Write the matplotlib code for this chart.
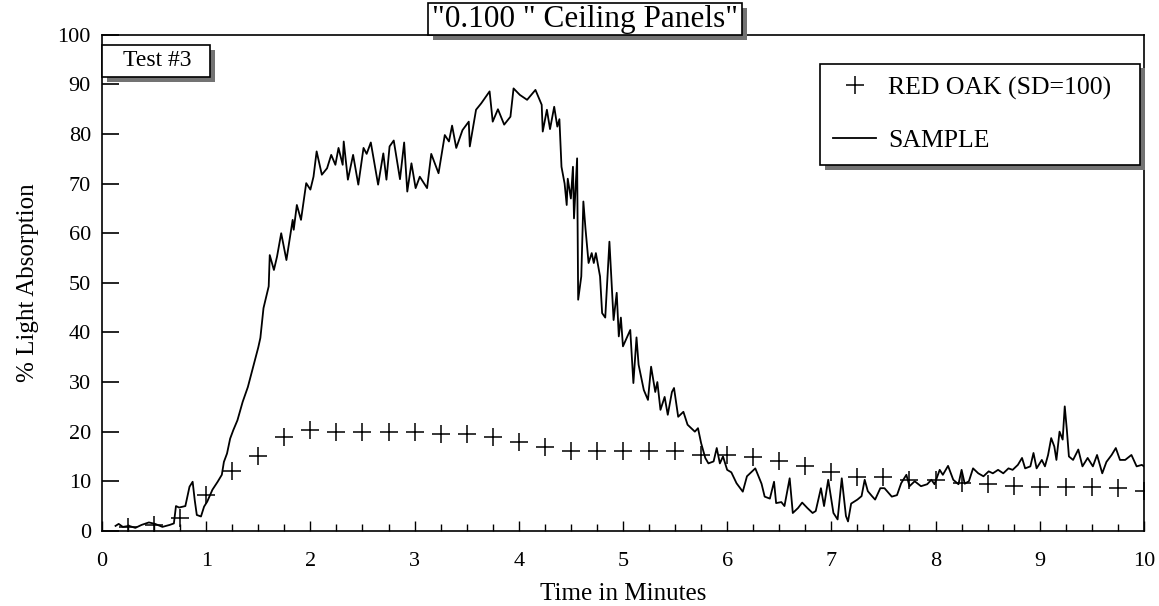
import matplotlib
matplotlib.use("Agg")
import matplotlib.pyplot as plt
import matplotlib.patheffects as pe
from matplotlib.patches import Rectangle
from matplotlib.ticker import MultipleLocator

plt.rcParams['font.family'] = ['Liberation Serif', 'DejaVu Serif']

# red oak reference (SD=100), one reading every quarter minute
oak_t = [0.25, 0.5, 0.75, 1.0, 1.25, 1.5, 1.75, 2.0, 2.25, 2.5, 2.75, 3.0, 3.25, 3.5,
         3.75, 4.0, 4.25, 4.5, 4.75, 5.0, 5.25, 5.5, 5.75, 6.0, 6.25, 6.5, 6.75, 7.0,
         7.25, 7.5, 7.75, 8.0, 8.25, 8.5, 8.75, 9.0, 9.25, 9.5, 9.75, 10.0]
oak_v = [0.8, 1.2, 2.6, 7.3, 12.1, 15.1, 18.9, 20.4, 20.0, 20.0, 20.0, 20.0, 19.6, 19.6,
         19.0, 18.0, 17.0, 16.0, 16.0, 16.0, 16.0, 16.0, 15.3, 15.3, 14.9, 14.0, 13.0, 11.8,
         10.9, 10.9, 10.3, 10.3, 9.7, 9.5, 9.1, 8.9, 8.8, 8.8, 8.6, 8.1]

# sample trace
smp_t = [0.13, 0.16, 0.20, 0.26, 0.32, 0.38, 0.45, 0.51, 0.58, 0.65, 0.69, 0.71, 0.74, 0.80,
         0.84, 0.87, 0.89, 0.91, 0.95, 0.98, 1.01, 1.06, 1.11, 1.15, 1.17, 1.20, 1.23, 1.26,
         1.30, 1.35, 1.40, 1.45, 1.50, 1.52, 1.55, 1.60, 1.61, 1.65, 1.68, 1.72, 1.77, 1.83,
         1.84, 1.87, 1.91, 1.96, 2.00, 2.03, 2.06, 2.11, 2.16, 2.20, 2.24, 2.27, 2.31, 2.32,
         2.36, 2.41, 2.46, 2.51, 2.54, 2.58, 2.65, 2.70, 2.73, 2.76, 2.80, 2.86, 2.90, 2.93,
         2.97, 3.01, 3.05, 3.12, 3.16, 3.23, 3.29, 3.33, 3.36, 3.40, 3.46, 3.52, 3.53, 3.59,
         3.64, 3.72, 3.75, 3.80, 3.86, 3.92, 3.95, 4.01, 4.08, 4.16, 4.22, 4.23, 4.27, 4.30,
         4.34, 4.37, 4.39, 4.41, 4.44, 4.46, 4.47, 4.50, 4.52, 4.53, 4.56, 4.57, 4.60, 4.62,
         4.64, 4.67, 4.70, 4.72, 4.74, 4.78, 4.80, 4.83, 4.87, 4.91, 4.94, 4.96, 4.98, 5.00,
         5.07, 5.10, 5.13, 5.15, 5.20, 5.24, 5.27, 5.31, 5.33, 5.36, 5.40, 5.43, 5.47, 5.49,
         5.53, 5.58, 5.62, 5.69, 5.72, 5.75, 5.79, 5.82, 5.87, 5.90, 5.93, 5.96, 6.00, 6.04,
         6.09, 6.15, 6.19, 6.22, 6.27, 6.33, 6.36, 6.41, 6.45, 6.47, 6.52, 6.55, 6.60, 6.63,
         6.68, 6.72, 6.77, 6.82, 6.85, 6.90, 6.93, 6.97, 7.02, 7.06, 7.10, 7.14, 7.16, 7.19,
         7.25, 7.29, 7.32, 7.35, 7.39, 7.42, 7.47, 7.51, 7.58, 7.63, 7.67, 7.72, 7.75, 7.80,
         7.86, 7.92, 7.96, 7.99, 8.04, 8.07, 8.12, 8.17, 8.22, 8.25, 8.28, 8.32, 8.36, 8.41,
         8.46, 8.51, 8.55, 8.60, 8.65, 8.70, 8.74, 8.79, 8.83, 8.86, 8.91, 8.94, 8.97, 9.02,
         9.05, 9.08, 9.11, 9.14, 9.16, 9.19, 9.22, 9.24, 9.26, 9.28, 9.32, 9.37, 9.41, 9.46,
         9.51, 9.55, 9.60, 9.64, 9.69, 9.73, 9.77, 9.82, 9.88, 9.93, 9.98, 10.00]
smp_v = [1.0, 1.4, 0.8, 1.0, 0.6, 1.2, 1.7, 1.4, 0.8, 1.2, 1.5, 5.0, 4.7, 5.0,
         8.9, 9.9, 6.2, 3.2, 2.9, 4.9, 5.9, 8.3, 9.9, 11.3, 13.9, 15.6, 18.6, 20.3,
         22.3, 26.0, 29.0, 33.0, 37.0, 38.9, 44.9, 49.3, 55.6, 52.6, 55.3, 60.0, 54.6, 62.7,
         60.7, 65.7, 62.7, 70.1, 68.8, 71.4, 76.5, 71.8, 73.1, 75.8, 73.8, 77.2, 73.8, 78.5,
         70.8, 75.8, 69.8, 77.2, 76.0, 78.3, 69.8, 76.1, 70.8, 77.5, 78.7, 70.9, 78.3, 68.4,
         74.1, 69.1, 71.4, 69.1, 76.0, 72.1, 79.8, 78.5, 81.7, 77.2, 80.8, 82.5, 77.5, 84.9,
         86.2, 88.6, 82.5, 85.0, 81.9, 83.5, 89.2, 87.9, 86.9, 88.9, 85.9, 80.5, 84.9, 81.0,
         85.5, 81.5, 83.0, 73.4, 70.0, 65.7, 71.0, 67.0, 73.4, 63.0, 75.1, 46.6, 51.3, 66.4,
         61.0, 54.0, 56.0, 54.0, 56.0, 51.3, 43.9, 43.0, 58.3, 42.5, 48.0, 39.2, 43.0, 37.2,
         40.5, 29.8, 39.0, 33.5, 28.4, 26.4, 33.1, 28.0, 30.0, 24.4, 27.0, 23.4, 28.0, 28.8,
         23.0, 24.0, 21.4, 20.0, 20.7, 17.7, 14.7, 13.6, 14.0, 16.7, 13.6, 15.0, 12.3, 11.8,
         9.6, 7.9, 11.0, 11.6, 12.6, 9.5, 6.9, 6.5, 9.9, 5.6, 5.8, 5.0, 10.6, 3.6,
         4.6, 5.7, 4.6, 3.6, 4.0, 8.6, 5.0, 10.3, 3.6, 2.3, 10.6, 3.0, 1.9, 5.5,
         6.3, 7.0, 10.3, 8.0, 7.0, 6.3, 8.6, 8.6, 6.9, 7.2, 9.6, 11.3, 9.0, 10.0,
         9.0, 9.4, 10.3, 9.4, 12.3, 11.3, 13.1, 10.3, 9.4, 12.3, 9.5, 10.0, 12.6, 11.6,
         11.0, 12.0, 11.6, 12.3, 11.6, 12.6, 12.3, 13.3, 14.7, 12.6, 13.0, 15.7, 12.6, 14.3,
         13.0, 15.3, 18.7, 17.0, 14.3, 20.0, 18.4, 25.1, 20.4, 15.0, 14.3, 16.4, 13.0, 14.7,
         13.0, 15.3, 11.6, 13.9, 15.3, 16.7, 14.3, 14.3, 15.3, 13.0, 13.3, 13.0]

fig = plt.figure(figsize=(11.59, 6.06), dpi=100)
ax = fig.add_axes([0.088, 0.124, 0.899, 0.8185])

ax.plot(oak_t, oak_v, '+', color='black', ms=13, mew=1.1, label='RED OAK (SD=100)')
ax.plot(smp_t, smp_v, '-', color='black', lw=1.3, label='SAMPLE')

ax.set_xlim(0, 10)
ax.set_ylim(0, 100)
ax.xaxis.set_major_locator(MultipleLocator(1))
ax.xaxis.set_minor_locator(MultipleLocator(0.25))
ax.yaxis.set_major_locator(MultipleLocator(10))
ax.tick_params(axis='x', which='major', direction='in', length=7, width=1, labelsize=16, pad=15)
ax.tick_params(axis='x', which='minor', direction='in', length=5, width=1)
ax.tick_params(axis='y', which='major', direction='in', length=12, width=1.2, labelsize=16, pad=8)
for s in ax.spines.values():
    s.set_linewidth(1.2)

ax.set_xlabel('Time in Minutes', fontsize=18, labelpad=9)
ax.set_ylabel('% Light Absorption', fontsize=18, labelpad=13)

shadow = [pe.withSimplePatchShadow(offset=(3.5, -3.5), shadow_rgbFace='0.45', alpha=1)]

# title box, sitting on the top spine
tb = Rectangle((0.3129, 1.0), 0.3013, 0.0645, transform=ax.transAxes, fc='white',
               ec='black', lw=1.2, clip_on=False, zorder=5)
tb.set_path_effects(shadow)
ax.add_patch(tb)
ax.text(0.4635, 1.031, '"0.100 " Ceiling Panels"', transform=ax.transAxes,
        ha='center', va='center', fontsize=22.5, zorder=6)

# test label box
bb = Rectangle((0.0, 0.915), 0.1036, 0.065, transform=ax.transAxes, fc='white',
               ec='black', lw=1.2, clip_on=False, zorder=5)
bb.set_path_effects(shadow)
ax.add_patch(bb)
ax.text(0.0528, 0.948, 'Test #3', transform=ax.transAxes,
        ha='center', va='center', fontsize=17, zorder=6)

leg = ax.legend(loc='upper left', bbox_to_anchor=(0.689, 0.742, 0.307, 0.2), mode='expand',
                fontsize=18.5, frameon=True, fancybox=False, edgecolor='black', framealpha=1,
                handlelength=1.7, handletextpad=0.45, labelspacing=1.15,
                borderpad=0.5, borderaxespad=0)
leg.get_frame().set_linewidth(1.2)
leg.get_frame().set_path_effects(shadow)

fig.savefig('out.png', dpi=100)
